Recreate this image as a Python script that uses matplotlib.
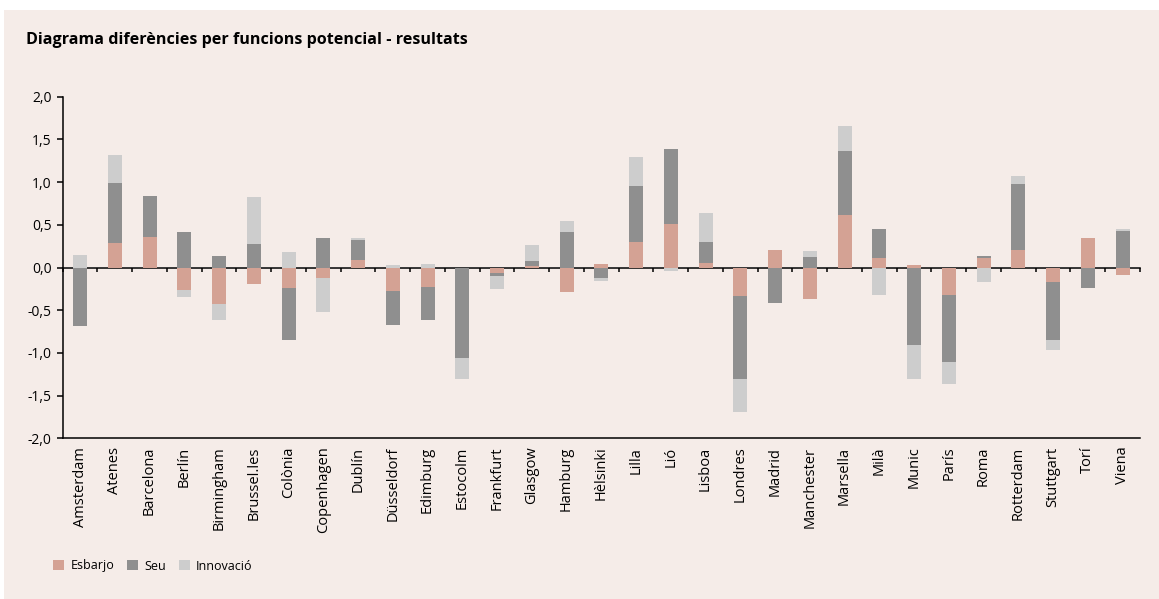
import numpy as np
import matplotlib.pyplot as plt
from matplotlib.patches import Rectangle

plt.rcParams['font.family'] = ['Open Sans', 'DejaVu Sans']

# dades
cities = ['Amsterdam', 'Atenes', 'Barcelona', 'Berlín', 'Birmingham', 'Brussel.les',
          'Colònia', 'Copenhagen', 'Dublín', 'Düsseldorf', 'Edimburg', 'Estocolm',
          'Frankfurt', 'Glasgow', 'Hamburg', 'Hèlsinki', 'Lilla', 'Lió', 'Lisboa',
          'Londres', 'Madrid', 'Manchester', 'Marsella', 'Milà', 'Munic', 'París',
          'Roma', 'Rotterdam', 'Stuttgart', 'Torí', 'Viena']
esbarjo = [0.00, 0.29, 0.36, -0.26, -0.43, -0.19, -0.24, -0.12, 0.09, -0.27, -0.23, 0.00,
           -0.06, 0.02, -0.29, 0.04, 0.30, 0.51, 0.05, -0.33, 0.20, -0.37, 0.62, 0.11,
           0.03, -0.32, 0.11, 0.21, -0.17, 0.35, -0.09]
seu = [-0.68, 0.70, 0.48, 0.41, 0.14, 0.27, -0.61, 0.34, 0.23, -0.40, -0.39, -1.06,
       -0.04, 0.06, 0.41, -0.12, 0.66, 0.88, 0.25, -0.97, -0.41, 0.125, 0.74, 0.34,
       -0.91, -0.79, 0.02, 0.77, -0.68, -0.24, 0.43]
innovacio = [0.15, 0.33, 0.00, -0.08, -0.19, 0.56, 0.18, -0.40, 0.03, 0.03, 0.04, -0.25,
             -0.15, 0.18, 0.13, -0.04, 0.33, -0.04, 0.34, -0.39, 0.00, 0.07, 0.30, -0.32,
             -0.40, -0.25, -0.17, 0.09, -0.12, 0.00, 0.02]

series = [('Esbarjo', esbarjo, '#d4a294'),
          ('Seu', seu, '#8f8f8f'),
          ('Innovació', innovacio, '#cdcdcd')]

bg = '#f5ece8'
fig = plt.figure(figsize=(11.59, 5.99), dpi=100, facecolor='white')
fig.patches.append(Rectangle((4 / 1159, 0), 1, 1 - 10 / 599, transform=fig.transFigure,
                             facecolor=bg, edgecolor='none', zorder=-10))

ax = fig.add_axes([62.7 / 1159, 1 - 438.3 / 599, (1140 - 62.7) / 1159, (438.3 - 96.7) / 599])
ax.set_facecolor(bg)

x = np.arange(len(cities))
pos_base = np.zeros(len(cities))
neg_base = np.zeros(len(cities))
for name, vals, col in series:
    v = np.array(vals, dtype=float)
    base = np.where(v >= 0, pos_base, neg_base)
    ax.bar(x, v, 0.4, bottom=base, color=col, label=name, zorder=2)
    pos_base += np.clip(v, 0, None)
    neg_base += np.clip(v, None, 0)

ax.set_xlim(-0.5, len(cities) - 0.5)
ax.set_ylim(-2.0, 2.0)
yt = np.arange(-2.0, 2.01, 0.5)
ax.set_yticks(yt)
ax.set_yticklabels([f'{t:.1f}'.replace('.', ',') for t in yt], fontsize=10)
ax.set_xticks(x)
ax.set_xticklabels(cities, rotation=90, fontsize=10.5)
ax.tick_params(axis='x', length=0, pad=6)
ax.tick_params(axis='y', direction='out', length=4, width=1.1, pad=4)
for s in ['top', 'right']:
    ax.spines[s].set_visible(False)
for s in ['left', 'bottom']:
    ax.spines[s].set_linewidth(1.1)

# eix del zero amb marques entre categories
sec = ax.secondary_xaxis(0.5)
sec.set_alignment('bottom')
sec.set_xticks(np.arange(len(cities) + 1) - 0.5)
sec.tick_params(direction='out', length=3, width=1.1, labelbottom=False, labeltop=False)
sec.spines['bottom'].set_linewidth(1.1)
sec.spines['bottom'].set_zorder(5)

fig.text(26 / 1159, 1 - 40 / 599, 'Diagrama diferències per funcions potencial - resultats',
         fontsize=11.6, fontweight='bold', va='center', ha='left')

fig.legend(loc='center left', bbox_to_anchor=(48 / 1159, 1 - 566 / 599), ncol=3, frameon=False,
           fontsize=9, handlelength=0.9, handleheight=0.9, handletextpad=0.5,
           columnspacing=1.0, borderaxespad=0)

fig.savefig('out.png', dpi=100, facecolor=fig.get_facecolor())
